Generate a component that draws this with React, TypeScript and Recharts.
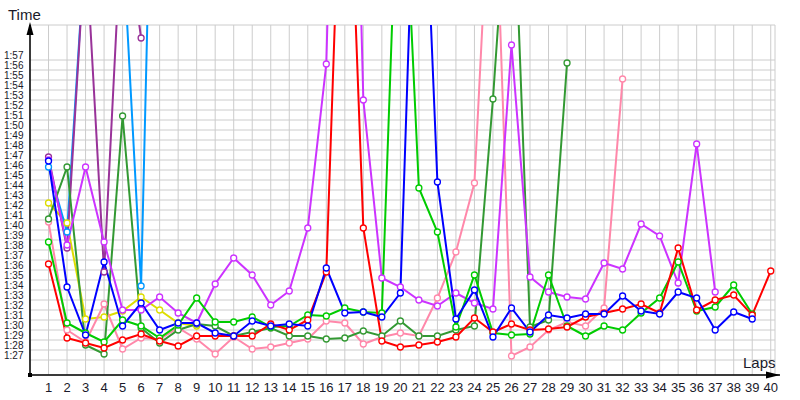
import React from "react";
import { LineChart, Line, XAxis, YAxis, CartesianGrid } from "recharts";

// lap times in seconds (values above ~120 leave the top of the chart)
const laps = [1, 2, 3, 4, 5, 6, 7, 8, 9, 10, 11, 12, 13, 14, 15, 16, 17, 18, 19, 20, 21, 22, 23, 24, 25, 26, 27, 28, 29, 30, 31, 32, 33, 34, 35, 36, 37, 38, 39, 40];

const red = [96.6, 89.2, 88.7, 88.2, 89.0, 89.6, 88.9, 88.4, 89.4, 89.4, 89.4, 89.4, 90.6, 90.0, 91.0, 95.8, 150, 100.2, 88.9, 88.3, 88.5, 88.8, 89.3, 91.2, 89.8, 90.6, 90.0, 90.1, 90.3, 91.3, 91.7, 92.1, 92.6, 91.7, 98.2, 92.0, 93.0, 93.5, 91.5, 95.9];
const blue = [106.9, 94.3, 89.5, 96.8, 90.4, 92.7, 90.0, 90.7, 90.7, 89.7, 89.4, 90.9, 90.4, 90.6, 90.4, 96.2, 91.7, 91.8, 91.3, 93.7, 150, 104.8, 91.1, 94.0, 89.3, 92.2, 89.8, 91.5, 91.2, 91.6, 91.6, 93.4, 91.9, 91.6, 93.8, 93.2, 90.0, 91.8, 91.1];
const green = [98.8, 90.7, 89.7, 88.8, 91.0, 90.4, 89.2, 90.5, 93.2, 90.8, 90.8, 91.3, 90.3, 90.4, 91.5, 91.4, 92.2, 91.8, 91.7, 144, 104.2, 99.8, 90.3, 95.5, 89.7, 89.5, 89.6, 95.5, 90.4, 89.4, 90.4, 90.0, 91.7, 93.2, 96.8, 91.9, 92.3, 94.5, 91.6];
const darkGreen = [101.1, 106.3, 88.5, 87.6, 111.4, 90.2, 88.7, 90.0, 90.6, 90.4, 89.4, 89.8, 90.2, 89.4, 89.4, 89.1, 89.2, 89.9, 89.4, 90.9, 89.4, 89.4, 90.0, 90.4, 113.1, 140, 90.3, 91.0, 116.7];
const pink = [100.8, 90.0, 88.8, 92.6, 88.1, 89.2, 89.1, 90.2, 89.1, 87.6, 89.3, 88.1, 88.3, 88.7, 89.1, 90.9, 90.7, 88.6, 89.3, 89.7, 89.4, 93.2, 97.8, 104.7, 141.6, 87.4, 88.3, 90.0, 90.8, 90.4, 92.2, 115.1];
const magenta = [107.0, 98.5, 106.3, 98.8, 92.0, 92.0, 93.3, 91.7, 90.7, 94.6, 97.2, 95.5, 92.5, 93.9, 100.2, 116.6, 185, 113.0, 95.2, 94.3, 93.0, 92.4, 93.7, 92.7, 92.1, 118.5, 95.3, 93.8, 93.3, 93.1, 96.7, 96.1, 100.6, 99.4, 94.7, 108.6, 93.8];
const purple = [107.3, 98.2, 129, 95.8, 132.5, 119.2];
const lightBlue = [106.3, 99.8, 129, 135, 129.2, 94.4, 173];
const yellow = [102.7, 100.7, 91.1, 91.3, 91.9, 93.3, 92.0, 90.7, 90.4];

const yTicks = [87, 88, 89, 90, 91, 92, 93, 94, 95, 96, 97, 98, 99, 100, 101, 102, 103, 104, 105, 106, 107, 108, 109, 110, 111, 112, 113, 114, 115, 116, 117];

const series = [
  { key: "yellow", values: yellow, color: "#dddd00" },
  { key: "lightBlue", values: lightBlue, color: "#0099ff" },
  { key: "purple", values: purple, color: "#993399" },
  { key: "pink", values: pink, color: "#ff88aa" },
  { key: "darkGreen", values: darkGreen, color: "#339933" },
  { key: "magenta", values: magenta, color: "#cc33ff" },
  { key: "green", values: green, color: "#00cc00" },
  { key: "red", values: red, color: "#ff0000" },
  { key: "blue", values: blue, color: "#0000ff" },
];

const data = laps.map((lap, i) => {
  const row: Record<string, number | null> = { lap };
  series.forEach(s => {
    row[s.key] = i < s.values.length ? s.values[i] : null;
  });
  return row;
});

const fmt = (v: number) => {
  const m = Math.floor(v / 60);
  const s = Math.round(v - m * 60);
  return `${m}:${s < 10 ? "0" : ""}${s}`;
};

const FONT = "'Liberation Sans Narrow', 'Liberation Sans', Arial, sans-serif";

const YTick = (props: any) => {
  const { y, payload } = props;
  return (
    <text x={4} y={y - 1} fontSize={10} fill="#1a1a2a" fontFamily={FONT}>
      {fmt(payload.value)}
    </text>
  );
};

const XTick = (props: any) => {
  const { x, payload } = props;
  return (
    <text x={x} y={392} textAnchor="middle" fontSize={13} fill="#1a1a2a" fontFamily={FONT}>
      {payload.value}
    </text>
  );
};

export default function App() {
  return (
    <div style={{ position: "absolute", left: 0, top: 0, width: 800, height: 400, background: "#fff" }}>
      <LineChart width={800} height={400} data={data} margin={{ top: 25, right: 25, bottom: 0, left: 0 }}>
        <CartesianGrid stroke="#cccccc" strokeWidth={1} />
        <XAxis
          dataKey="lap"
          type="number"
          domain={[0, 40.23]}
          ticks={laps}
          interval={0}
          tickLine={false}
          axisLine={{ stroke: "#000", strokeWidth: 1.5 }}
          tick={<XTick />}
          height={25}
          allowDataOverflow
        />
        <YAxis
          type="number"
          domain={[85.5, 120.5]}
          ticks={yTicks}
          interval={0}
          tickLine={false}
          axisLine={{ stroke: "#000", strokeWidth: 1.5 }}
          tick={<YTick />}
          width={30}
          allowDataOverflow
        />
        {series.map(s => (
          <Line
            key={s.key}
            dataKey={s.key}
            type="linear"
            stroke={s.color}
            strokeWidth={2}
            dot={{ r: 3, fill: "#fff", stroke: s.color, strokeWidth: 1.3 }}
            activeDot={false}
            isAnimationActive={false}
          />
        ))}
      </LineChart>
      <svg width={800} height={400} style={{ position: "absolute", left: 0, top: 0, pointerEvents: "none" }}>
        <polygon points="30,22 26.5,35 33.5,35" fill="#000" />
        <polygon points="780,375 766,371.5 766,378.5" fill="#000" />
        <line x1={770} y1={375} x2={780} y2={375} stroke="#000" strokeWidth={1.5} />
        <rect x={28} y={373} width={4} height={4} fill="#000" />
        <text x={8} y={20} fontSize={15} fill="#1a1a2a" fontFamily="'Liberation Sans', Arial, sans-serif">Time</text>
        <text x={743} y={368} fontSize={15} fill="#1a1a2a" fontFamily="'Liberation Sans', Arial, sans-serif">Laps</text>
      </svg>
    </div>
  );
}
